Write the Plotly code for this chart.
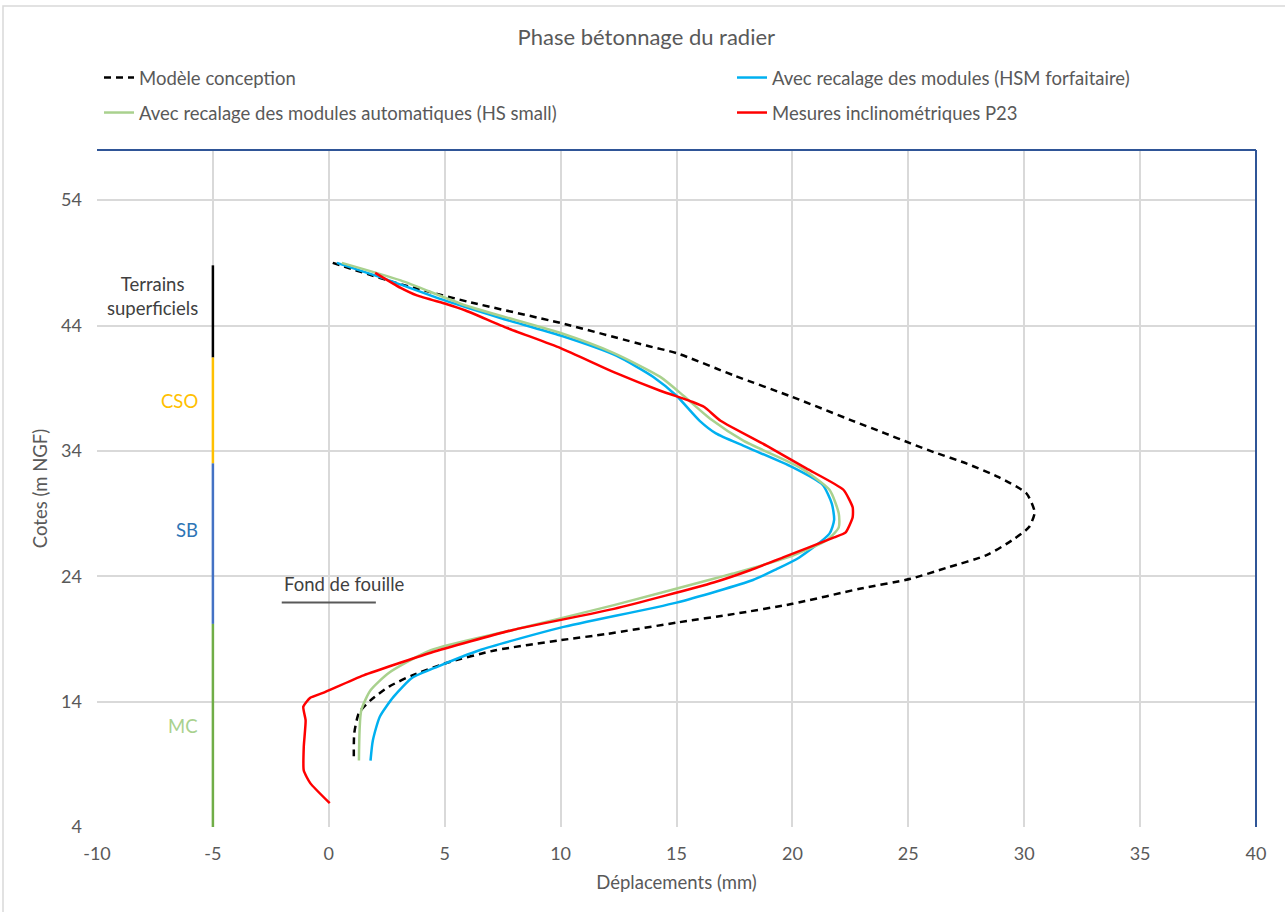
import plotly.graph_objects as go

# ---- data ----
conception_x = [0.17, 2.9, 6.0, 10.0, 13.7, 15.0, 17.5, 20.0, 22.6, 24.0, 25.1, 26.1, 27.5, 28.9, 30.1, 30.45, 30.2, 29.5, 28.4, 26.7, 25.1, 22.9, 20.0, 17.5, 15.0, 12.0, 10.0, 7.2, 5.1, 3.6, 2.6, 1.8, 1.3, 1.1, 1.08]
conception_y = [49.0, 47.4, 45.9, 44.2, 42.4, 41.8, 40.0, 38.3, 36.4, 35.4, 34.6, 33.9, 33.0, 31.9, 30.6, 29.1, 27.9, 26.9, 25.7, 24.7, 23.8, 23.0, 21.8, 21.0, 20.3, 19.4, 18.9, 18.1, 17.1, 16.1, 15.2, 14.1, 13.1, 11.5, 9.3]

hsm_x = [0.35, 2.3, 5.0, 7.4, 10.0, 12.4, 14.0, 15.0, 16.0, 16.7, 17.9, 20.0, 21.3, 21.7, 21.8, 21.6, 20.3, 19.3, 18.3, 15.0, 10.0, 6.5, 4.7, 3.6, 2.8, 2.2, 1.9, 1.8]
hsm_y = [49.0, 47.8, 46.0, 44.6, 43.2, 41.6, 39.9, 38.4, 36.4, 35.4, 34.4, 32.7, 31.3, 29.8, 28.5, 27.4, 25.5, 24.55, 23.7, 21.9, 19.9, 18.1, 16.8, 15.9, 14.4, 12.8, 10.9, 9.3]

hs_small_x = [0.56, 3.1, 5.9, 10.0, 12.3, 14.3, 15.3, 16.5, 17.9, 20.3, 21.6, 22.0, 22.0, 21.5, 19.8, 17.4, 16.6, 12.3, 7.9, 4.4, 2.6, 1.8, 1.4, 1.3]
hs_small_y = [49.0, 47.6, 45.6, 43.4, 41.8, 39.9, 38.4, 36.5, 34.8, 32.7, 30.9, 29.0, 27.9, 26.9, 25.5, 24.2, 23.8, 21.7, 19.7, 18.1, 16.3, 14.9, 13.3, 9.3]

p23_x = [2.0, 3.1, 3.8, 5.1, 5.9, 7.7, 10.0, 12.4, 14.3, 15.7, 16.2, 16.9, 18.9, 20.6, 22.2, 22.6, 22.6, 22.3, 21.8, 19.6, 18.2, 16.6, 12.3, 7.9, 4.4, 1.5, -0.25, -0.8, -1.1, -1.0, -1.08, -1.08, -0.8, 0.04]
p23_y = [48.2, 47.0, 46.4, 45.7, 45.2, 43.8, 42.2, 40.2, 38.8, 37.9, 37.5, 36.4, 34.4, 32.6, 30.9, 29.5, 28.7, 27.5, 27.1, 25.5, 24.5, 23.5, 21.4, 19.7, 17.9, 16.1, 14.7, 14.3, 13.6, 12.5, 10.4, 8.5, 7.5, 5.9]

zone_labels = ["Terrains<br>superficiels", "CSO", "SB", "MC"]
zone_top = [48.8, 41.45, 33.0, 20.2]
zone_bottom = [41.45, 33.0, 20.2, 4.0]
zone_line_colors = ["#000000", "#FFC000", "#4472C4", "#70AD47"]
zone_text_colors = ["#404040", "#FFC000", "#2E75B6", "#A9D18E"]
zone_label_y = [46.35, 37.94, 27.67, 12.05]
zone_x = -5

fond_x = [-2.03, 2.03]
fond_y = [21.9, 21.9]

x_ticks = [-10, -5, 0, 5, 10, 15, 20, 25, 30, 35, 40]
y_ticks = [4, 14, 24, 34, 44, 54]

FONT = "Lato"
GREY = "#595959"
FS = 18.5

fig = go.Figure()

fig.add_trace(go.Scatter(x=conception_x, y=conception_y, mode="lines", name="Modèle conception",
                         line=dict(color="#000000", width=2.5, dash="7px,5px", shape="spline", smoothing=0.6),
                         legend="legend"))
fig.add_trace(go.Scatter(x=hsm_x, y=hsm_y, mode="lines", name="Avec recalage des modules (HSM forfaitaire)",
                         line=dict(color="#00B0F0", width=2.5, shape="spline", smoothing=0.6),
                         legend="legend2"))
fig.add_trace(go.Scatter(x=hs_small_x, y=hs_small_y, mode="lines", name="Avec recalage des modules automatiques (HS small)",
                         line=dict(color="#A9D18E", width=2.5, shape="spline", smoothing=0.6),
                         legend="legend3"))
fig.add_trace(go.Scatter(x=p23_x, y=p23_y, mode="lines", name="Mesures inclinométriques P23",
                         line=dict(color="#FF0000", width=2.5, shape="spline", smoothing=0.5),
                         legend="legend4"))

for top, bot, col in zip(zone_top, zone_bottom, zone_line_colors):
    fig.add_trace(go.Scatter(x=[zone_x, zone_x], y=[top, bot], mode="lines",
                             line=dict(color=col, width=2.5), showlegend=False, hoverinfo="skip"))

fig.add_trace(go.Scatter(x=fond_x, y=fond_y, mode="lines", line=dict(color=GREY, width=2),
                         showlegend=False, hoverinfo="skip"))

for lab, ly, tc in zip(zone_labels, zone_label_y, zone_text_colors):
    fig.add_annotation(x=-5.57, y=ly, text=lab, showarrow=False, xanchor="right", yanchor="middle",
                       align="center", font=dict(family=FONT, size=FS, color=tc))

fig.add_annotation(x=fond_x[0], y=23.4, text="Fond de fouille", showarrow=False, xanchor="left",
                   yanchor="middle", font=dict(family=FONT, size=FS, color="#404040"))

# plot frame: top and right dark blue
fig.add_shape(type="line", xref="paper", yref="paper", x0=0, x1=1, y0=1, y1=1,
              line=dict(color="#2F5597", width=2))
fig.add_shape(type="line", xref="paper", yref="paper", x0=1, x1=1, y0=0, y1=1,
              line=dict(color="#2F5597", width=2))
# outer chart border
fig.add_shape(type="rect", xref="paper", yref="paper",
              x0=(3 - 97) / 1159, x1=(1300 - 97) / 1159, y0=(827 - 930) / 677, y1=(827 - 6) / 677,
              line=dict(color="#D9D9D9", width=1.5), layer="below")

def leg(px_x, px_y):
    return dict(orientation="h", x=(px_x - 97) / 1159, xanchor="left",
                y=(827 - px_y) / 677, yanchor="middle",
                font=dict(family=FONT, size=FS, color=GREY), bgcolor="rgba(0,0,0,0)")

fig.update_layout(
    width=1285, height=912,
    margin=dict(l=97, r=29, t=150, b=85),
    paper_bgcolor="white", plot_bgcolor="white",
    font=dict(family=FONT, size=FS, color=GREY),
    title=dict(text="Phase bétonnage du radier", x=0.503, xref="container", y=1 - 37 / 912,
               yref="container", yanchor="middle", xanchor="center",
               font=dict(family=FONT, size=22, color=GREY)),
    legend=leg(99, 78),
    legend2=leg(732, 78),
    legend3=leg(99, 113),
    legend4=leg(732, 113),
    xaxis=dict(range=[-10, 40], tickvals=x_ticks, ticktext=[str(v) for v in x_ticks],
               showgrid=True, gridcolor="#D9D9D9", gridwidth=1.5,
               zeroline=False, showline=False, ticks="", ticklabelstandoff=14,
               title=dict(text="Déplacements (mm)", standoff=13, font=dict(family=FONT, size=FS, color=GREY)),
               tickfont=dict(family=FONT, size=18, color=GREY)),
    yaxis=dict(range=[4, 58], tickvals=y_ticks, ticktext=[str(v) for v in y_ticks],
               showgrid=True, gridcolor="#D9D9D9", gridwidth=1.5,
               zeroline=False, showline=False, ticks="", ticklabelstandoff=14,
               title=dict(text="Cotes (m NGF)", standoff=8, font=dict(family=FONT, size=FS, color=GREY)),
               tickfont=dict(family=FONT, size=18, color=GREY)),
)

fig.write_html("out.html", config={"displayModeBar": False},
               post_script="document.body.style.margin='0';document.body.style.overflow='hidden';")
